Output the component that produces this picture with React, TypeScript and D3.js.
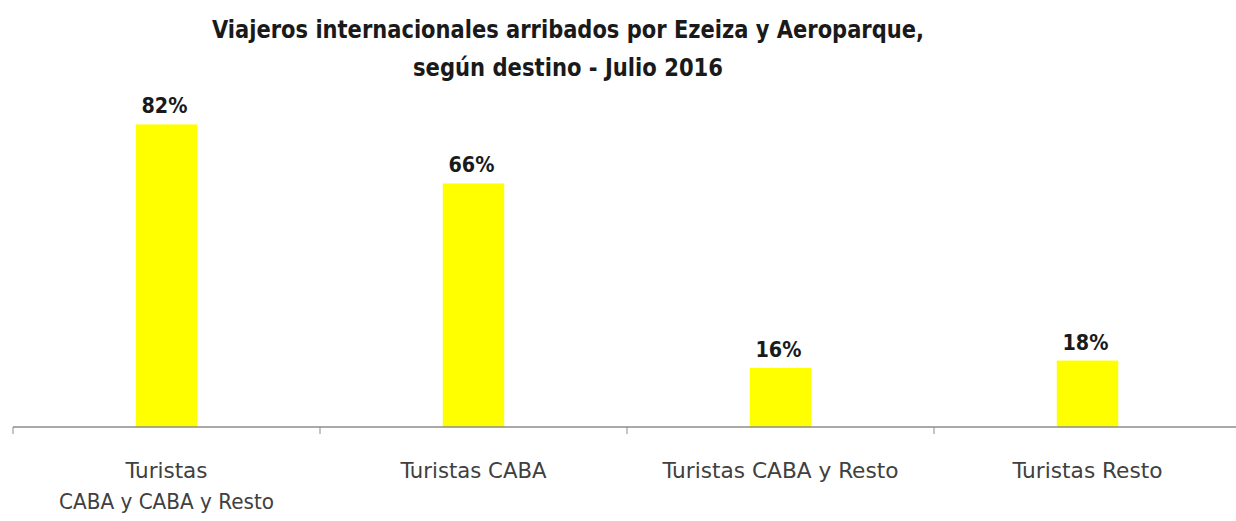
import React from "react";
import { scaleBand, scaleLinear } from "d3";

const categories = [
  ["Turistas", "CABA y CABA y Resto"],
  ["Turistas CABA"],
  ["Turistas CABA y Resto"],
  ["Turistas Resto"],
];
const values = [82, 66, 16, 18];
const valueLabels = ["82%", "66%", "16%", "18%"];
const titleLines = [
  "Viajeros internacionales arribados por Ezeiza y Aeroparque,",
  "según destino - Julio 2016",
];

const W = 1236;
const H = 521;
const font = "'DejaVu Sans Condensed', 'Liberation Sans Narrow', Arial, sans-serif";

// approximate rendered widths of the narrow original font
const titleWidths = [712, 310];
const catWidths: Record<string, number> = {
  "Turistas": 82,
  "CABA y CABA y Resto": 215,
  "Turistas CABA": 146,
  "Turistas CABA y Resto": 236,
  "Turistas Resto": 150,
};

const App = () => {
  const xScale = scaleBand<number>()
    .domain(values.map((v, i) => i))
    .range([13, 13 + 4 * 307])
    .paddingInner(0.8)
    .paddingOuter(0.4);

  const yScale = scaleLinear().domain([0, 100]).range([427, 58]);

  const step = xScale.step();
  const ticks = [0, 1, 2, 3, 4].map((i) => 13 + i * step);
  const cx = (i: number) => (xScale(i) as number) + xScale.bandwidth() / 2;

  return (
    <svg
      width={W}
      height={H}
      style={{ position: "absolute", left: 0, top: 0, background: "#fff" }}
    >
      {titleLines.map((t, i) => (
        <text
          key={i}
          x={568}
          y={38 + i * 38}
          textAnchor="middle"
          fontFamily={font}
          fontWeight="bold"
          fontSize={24}
          textLength={titleWidths[i]}
          lengthAdjust="spacingAndGlyphs"
          fill="#1a1a1a"
        >
          {t}
        </text>
      ))}
      {values.map((v, i) => (
        <rect
          key={i}
          x={xScale(i)}
          y={yScale(v)}
          width={xScale.bandwidth()}
          height={yScale(0) - yScale(v)}
          fill="#ffff00"
        />
      ))}
      {values.map((v, i) => (
        <text
          key={i}
          x={cx(i) - 2}
          y={yScale(v) - 11}
          textAnchor="middle"
          fontFamily={font}
          fontWeight="bold"
          fontSize={22}
          textLength={46}
          lengthAdjust="spacingAndGlyphs"
          fill="#1a1a1a"
        >
          {valueLabels[i]}
        </text>
      ))}
      <line x1={13} x2={W} y1={yScale(0)} y2={yScale(0)} stroke="#8c8c8c" strokeWidth={1.5} />
      {ticks.map((t, i) => (
        <line key={i} x1={t} x2={t} y1={yScale(0)} y2={yScale(0) + 7} stroke="#8c8c8c" strokeWidth={1} />
      ))}
      {categories.map((lines, i) =>
        lines.map((l, j) => (
          <text
            key={i + "-" + j}
            x={cx(i)}
            y={478 + j * 31}
            textAnchor="middle"
            fontFamily={font}
            fontSize={22}
            textLength={catWidths[l]}
            lengthAdjust="spacingAndGlyphs"
            fill="#404040"
          >
            {l}
          </text>
        ))
      )}
    </svg>
  );
};

export default App;
